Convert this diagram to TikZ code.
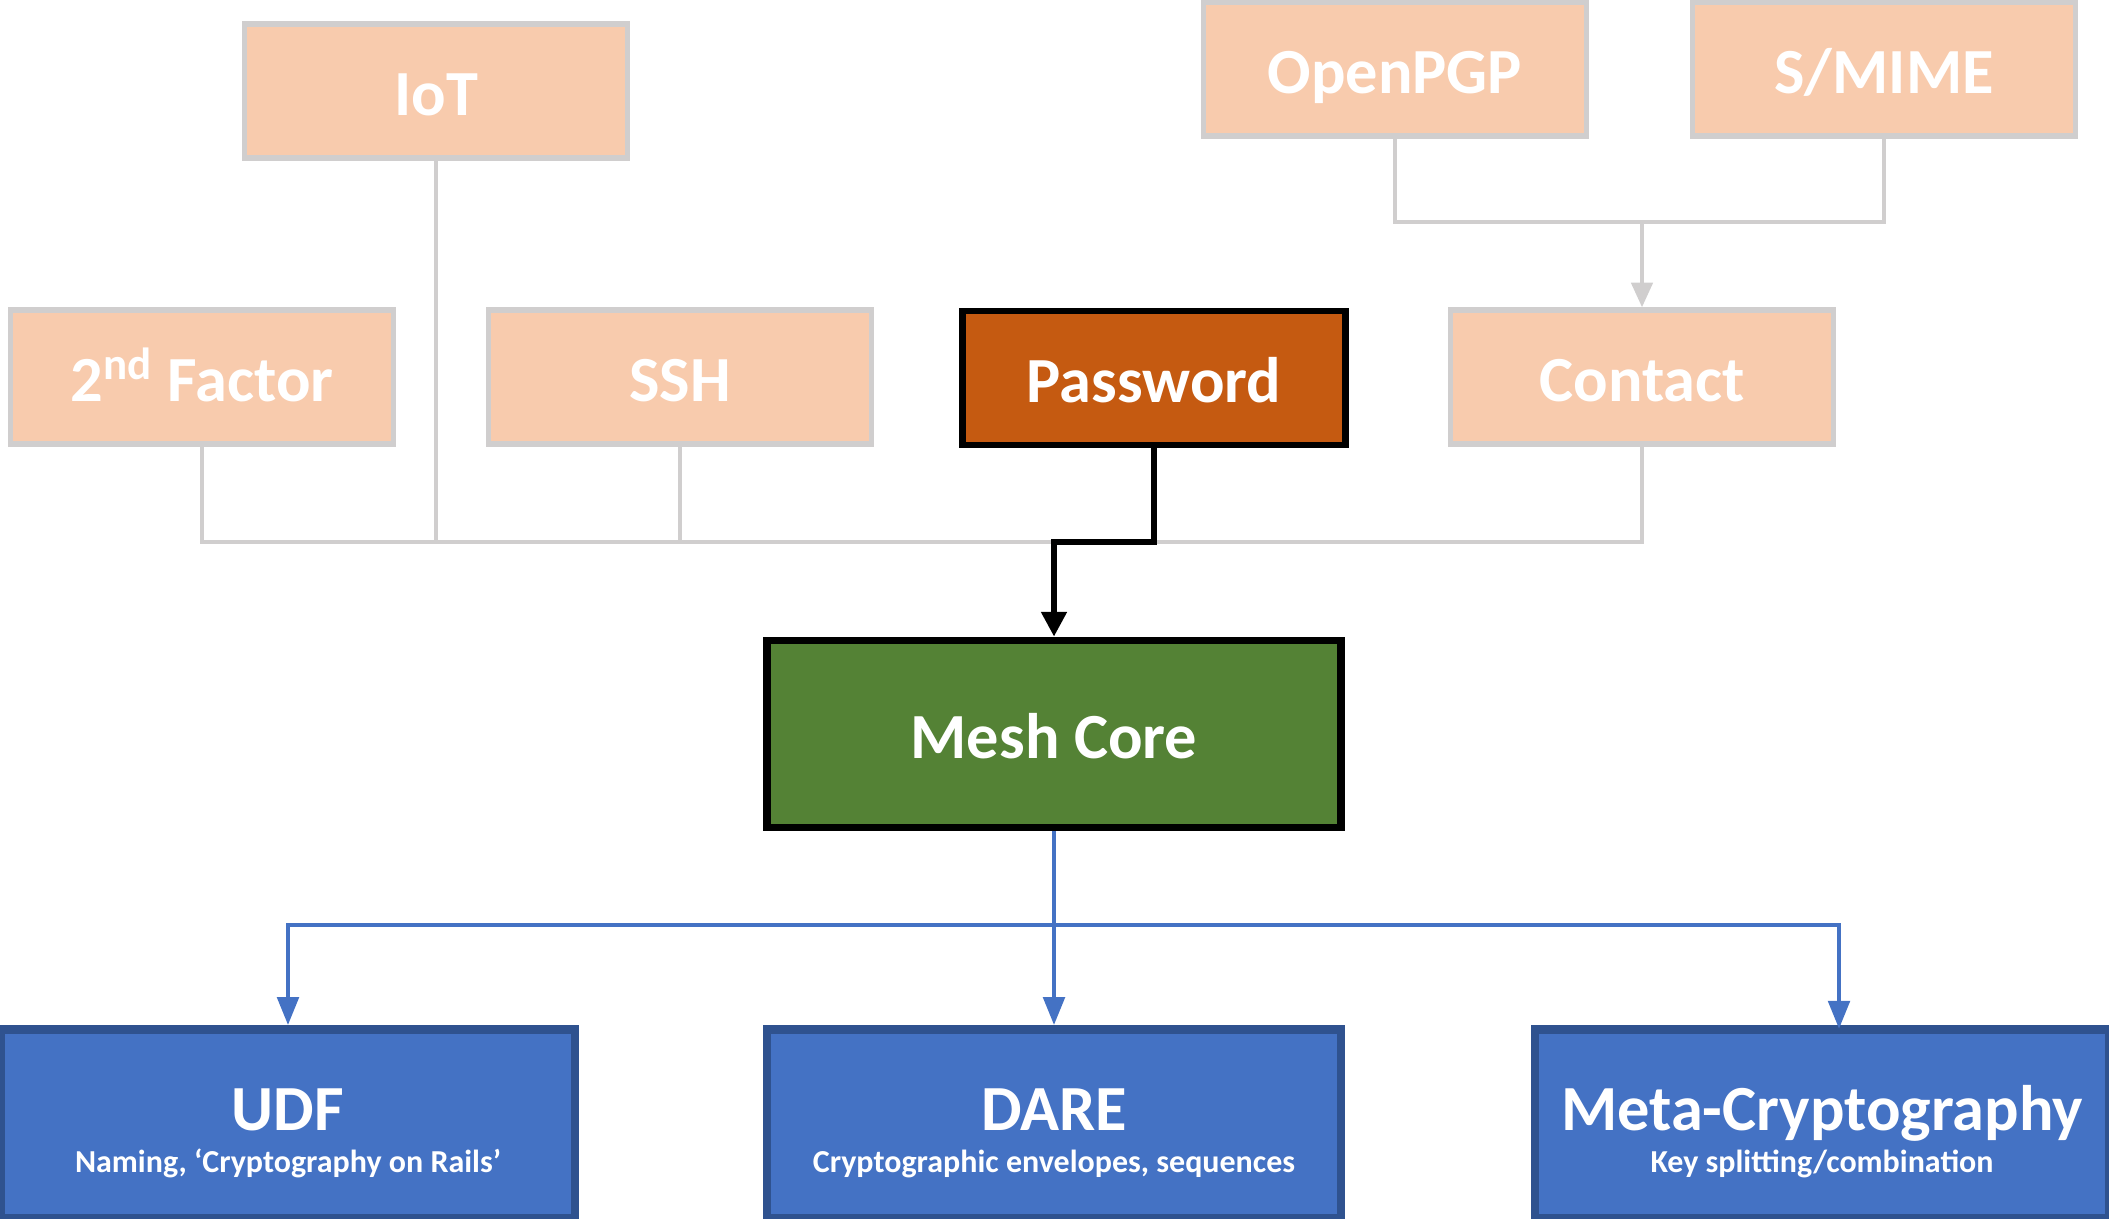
\documentclass[tikz,border=0pt]{standalone}
\usepackage{fontspec}
\setmainfont{Carlito}
\usepackage{tikz}
\usetikzlibrary{arrows.meta}

\definecolor{peach}{HTML}{F8CBAD}
\definecolor{linegray}{HTML}{D0CECE}
\definecolor{pworange}{HTML}{C55A11}
\definecolor{coregreen}{HTML}{548235}
\definecolor{libblue}{HTML}{4472C4}
\definecolor{libedge}{HTML}{2F528F}

\newcommand{\libtext}[2]{\rule{0pt}{17pt}#1\\[-10pt]{\fontsize{9.1}{11}\selectfont #2}}

\begin{document}
\begin{tikzpicture}[x=0.01cm,y=-0.01cm,
	appbox/.style={draw=linegray,fill=peach,line width=1.5pt,minimum width=3.83cm,minimum height=1.34cm,text=white,text height=14pt,text depth=0pt,font=\fontsize{18.3}{22}\selectfont\bfseries},
	pwbox/.style={appbox,draw=black,fill=pworange,line width=1.8pt},
	corebox/.style={draw=black,fill=coregreen,line width=2.2pt,minimum width=5.73cm,minimum height=1.87cm,text=white,text height=14pt,text depth=0pt,font=\fontsize{18.3}{22}\selectfont\bfseries},
	libbox/.style={draw=libedge,fill=libblue,line width=2.4pt,minimum width=5.74cm,minimum height=1.89cm,text=white,align=center,font=\fontsize{18.3}{22}\selectfont\bfseries},
	graylink/.style={draw=linegray,line width=1.2pt},
	bluelink/.style={draw=libblue,line width=1.4pt}]
	\useasboundingbox (0,0) rectangle (2109,1218);
	
	% Application boxes
	\node[appbox] (iot) at (436,91) {IoT};
	\node[appbox] (pgp) at (1395,69) {OpenPGP};
	\node[appbox] (mime) at (1884,69) {S/MIME};
	\node[appbox] (fac) at (202,377) {2\textsuperscript{nd} Factor};
	\node[appbox] (ssh) at (680,377) {SSH};
	\node[pwbox] (pw) at (1154,378) {Password};
	\node[appbox] (con) at (1642,377) {Contact};
	
	% Core and libraries
	\node[corebox] (core) at (1054,734) {Mesh Core};
	\node[libbox] (udf) at (288,1124) {\libtext{UDF}{Naming, ‘Cryptography on Rails’}};
	\node[libbox] (dare) at (1054,1124) {\libtext{DARE}{Cryptographic envelopes, sequences}};
	\node[libbox] (meta) at (1822,1124) {\libtext{Meta-Cryptography}{Key splitting/combination}};
	
	% Bus lines
	\coordinate (topbus) at (0,222);
	\coordinate (bus) at (0,542);
	\coordinate (libbus) at (0,925);
	\coordinate (metatop) at (1839,1029);
	
	% Draw gray links
	\draw[graylink] (pgp.south) -- (pgp.south |- topbus) -| (mime.south);
	\draw[graylink,-{Triangle[width=6pt,length=7pt]}] (con.north |- topbus) -- (con.north);
	\draw[graylink] (fac.south) -- (fac.south |- bus) -| (con.south);
	\draw[graylink] (iot.south) -- (iot.south |- bus);
	\draw[graylink] (ssh.south) -- (ssh.south |- bus);
	
	% Draw password link
	\draw[line width=1.6pt,-{Triangle[width=7pt,length=7pt]}] (pw.south) -- (pw.south |- bus) -| (core.north);
	
	% Draw blue links
	\draw[bluelink,-{Triangle[width=6pt,length=8pt]}] (core.south) -- (dare.north);
	\draw[bluelink,-{Triangle[width=6pt,length=8pt]}] (core.south |- libbus) -| (udf.north);
	\draw[bluelink,-{Triangle[width=6pt,length=8pt]}] (core.south |- libbus) -| (metatop);
\end{tikzpicture}
\end{document}
